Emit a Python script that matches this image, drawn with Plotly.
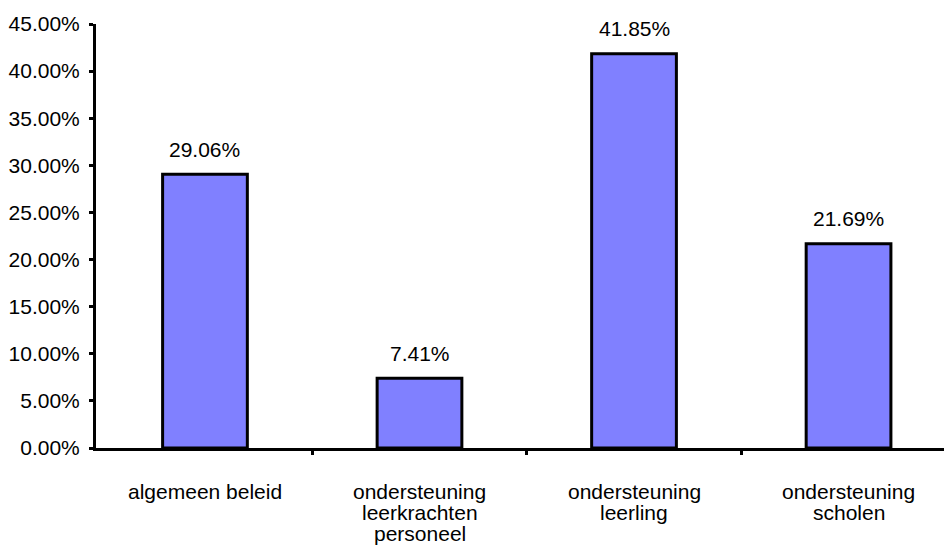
import plotly.graph_objects as go

categories = ["algemeen beleid", "ondersteuning<br>leerkrachten<br>personeel",
              "ondersteuning<br>leerling", "ondersteuning<br>scholen"]
values = [29.06, 7.41, 41.85, 21.69]
value_labels = ["29.06%", "7.41%", "41.85%", "21.69%"]
y_ticks = [0, 5, 10, 15, 20, 25, 30, 35, 40, 45]
y_tick_labels = ["%.2f%%" % t for t in y_ticks]

FONT = "Liberation Sans, Arial, sans-serif"
FS = 21

x_idx = list(range(len(categories)))

fig = go.Figure()
fig.add_trace(go.Bar(
    x=x_idx, y=values, width=0.395,
    marker=dict(color="#8080FF", line=dict(color="#000000", width=3)),
    hoverinfo="skip",
))

annotations = []
for i, (v, lab) in enumerate(zip(values, value_labels)):
    annotations.append(dict(x=i, y=v, xref="x", yref="y", text=lab, showarrow=False,
                            yanchor="middle", yshift=25,
                            font=dict(family=FONT, size=FS, color="#000")))
for i, cat in enumerate(categories):
    for j, line in enumerate(cat.split("<br>")):
        annotations.append(dict(x=i, y=0, xref="x", yref="y", text=line, showarrow=False,
                                yanchor="middle", yshift=-(43 + 21 * j),
                                font=dict(family=FONT, size=FS, color="#000")))

fig.update_layout(
    width=944, height=545,
    margin=dict(l=96, r=0, t=24, b=97),
    paper_bgcolor="white", plot_bgcolor="white",
    showlegend=False,
    font=dict(family=FONT, size=FS, color="#000"),
    annotations=annotations,
    xaxis=dict(
        type="linear", range=[-0.508, 3.445], showgrid=False, zeroline=False,
        showline=True, linecolor="#000", linewidth=3,
        tickmode="array", tickvals=[0.5, 1.5, 2.5], ticktext=["", "", ""],
        ticks="outside", ticklen=4, tickwidth=3, tickcolor="#000",
        showticklabels=False, fixedrange=True,
    ),
    yaxis=dict(
        range=[0, 45], showgrid=False, zeroline=False,
        showline=True, linecolor="#000", linewidth=3,
        tickmode="array", tickvals=y_ticks, ticktext=y_tick_labels,
        ticks="outside", ticklen=4, tickwidth=3, tickcolor="#000",
        tickfont=dict(family=FONT, size=FS, color="#000"),
        ticklabelstandoff=5, fixedrange=True,
    ),
)

fig.write_html("out.html")
